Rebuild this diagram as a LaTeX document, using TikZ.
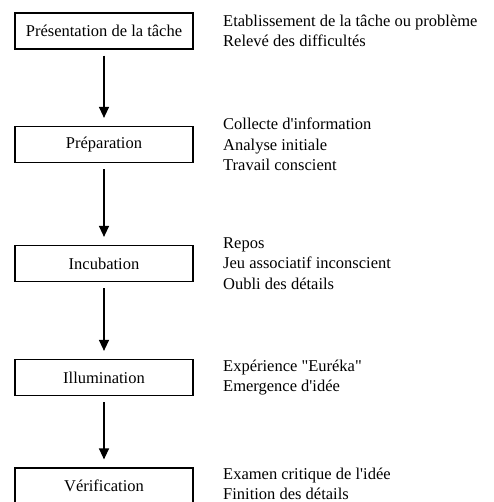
\documentclass[tikz,border=0pt]{standalone}
\usepackage{fontspec}
\setmainfont{Liberation Serif}[Ligatures=TeXOff]
\usetikzlibrary{arrows.meta}
\begin{document}
\begin{tikzpicture}[x=1pt,y=-1pt,
  font=\fontsize{16.5}{20.5}\selectfont,
  phase/.style={draw, line width=1.2pt, minimum width=178pt, minimum height=36pt, inner sep=0pt},
  notes/.style={anchor=west, align=left, inner sep=0pt},
  flow/.style={line width=1.3pt, -{Triangle[length=11pt,width=10pt]}, shorten <=6pt, shorten >=8pt}]
\useasboundingbox (0,0) rectangle (493,502);
% phases of the creative process
\node[phase] (p1) at (104,31)    {Présentation de la tâche};
\node[phase] (p2) at (104,144.5) {Préparation};
\node[phase] (p3) at (104,263.5) {Incubation};
\node[phase] (p4) at (104,377.5) {Illumination};
\node[phase] (p5) at (104,486)   {Vérification};
% descriptions beside each phase
\node[notes] (n1) at (223,31)    {Etablissement de la tâche ou problème\\Relevé des difficultés};
\node[notes] (n2) at (223,144.5) {Collecte d'information\\Analyse initiale\\Travail conscient};
\node[notes] (n3) at (223,263.5) {Repos\\Jeu associatif inconscient\\Oubli des détails};
\node[notes] (n4) at (223,377.5) {Expérience "Euréka"\\Emergence d'idée};
\node[notes] (n5) at (223,484)   {Examen critique de l'idée\\Finition des détails};
% sequence arrows
\draw[flow] (p1) -- (p2);
\draw[flow] (p2) -- (p3);
\draw[flow] (p3) -- (p4);
\draw[flow] (p4) -- (p5);
\end{tikzpicture}
\end{document}
